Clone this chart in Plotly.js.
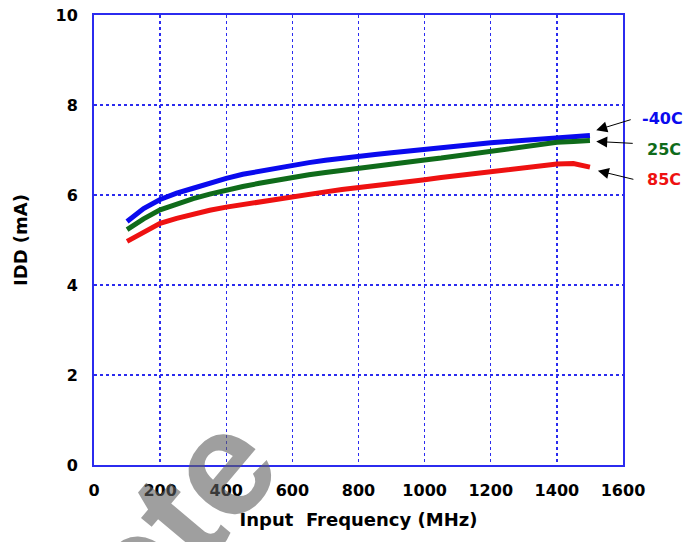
<!DOCTYPE html>
<html>
<head>
<meta charset="utf-8">
<script src="https://cdn.plot.ly/plotly-3.0.1.min.js"></script>
<style>html,body{margin:0;padding:0;background:#fff;}#chart{width:696px;height:542px;}</style>
</head>
<body>
<div id="chart"></div>
<script>
// Input frequency (MHz)
var freq = [100,150,200,250,300,350,400,450,500,550,600,650,700,750,800,850,900,950,1000,1050,1100,1150,1200,1250,1300,1350,1400,1450,1500];
var freqRed = [100,150,200,250,300,350,400,450,500,550,600,650,700,750,800,850,900,950,1000,1050,1100,1150,1200,1250,1300,1350,1400,1450,1475,1500];
// IDD (mA)
var iddM40 = [5.41,5.70,5.90,6.04,6.15,6.27,6.37,6.46,6.53,6.60,6.67,6.72,6.77,6.82,6.86,6.90,6.94,6.98,7.02,7.06,7.09,7.12,7.16,7.19,7.22,7.25,7.28,7.30,7.32];
var idd25 = [5.23,5.47,5.67,5.80,5.92,6.02,6.11,6.19,6.26,6.33,6.40,6.45,6.50,6.55,6.60,6.64,6.69,6.73,6.78,6.82,6.87,6.92,6.97,7.02,7.07,7.12,7.17,7.19,7.21];
var idd85 = [4.97,5.17,5.37,5.48,5.58,5.66,5.73,5.79,5.85,5.91,5.97,6.02,6.07,6.12,6.16,6.21,6.25,6.30,6.34,6.39,6.43,6.48,6.52,6.56,6.60,6.65,6.69,6.70,6.67,6.62];
var seriesNames = ['-40C','25C','85C'];
var xTicks = [0,200,400,600,800,1000,1200,1400,1600];
var yTicks = [0,2,4,6,8,10];
var watermark = 'Obsolete';

var cBlue = '#0a0aee', cGreen = '#0f6b1a', cRed = '#ee1111';
var font = 'DejaVu Sans, Verdana, sans-serif';

var traces = [
  {x: freq, y: iddM40, name: seriesNames[0], mode: 'lines', line: {color: cBlue, width: 5}},
  {x: freq, y: idd25, name: seriesNames[1], mode: 'lines', line: {color: cGreen, width: 5}},
  {x: freqRed, y: idd85, name: seriesNames[2], mode: 'lines', line: {color: cRed, width: 5}}
];

var axisCommon = {
  showline: true, mirror: true, linecolor: '#2b2bef', linewidth: 2,
  showgrid: true, gridcolor: '#2b2bef', gridwidth: 1.3, griddash: 'dot',
  zeroline: false, ticks: '', fixedrange: true,
  tickfont: {family: font, size: 16, color: '#000', weight: 'bold'}
};

var layout = {
  width: 696, height: 542,
  margin: {l: 94, r: 73, t: 15, b: 77, pad: 0},
  paper_bgcolor: '#fff', plot_bgcolor: 'rgba(0,0,0,0)',
  showlegend: false,
  xaxis: Object.assign({}, axisCommon, {
    range: [0, 1600], tickvals: xTicks, ticktext: xTicks.map(String),
    ticklabelstandoff: 10,
    title: {text: 'Input\u00a0 Frequency (MHz)', standoff: 14,
            font: {family: font, size: 18, color: '#000', weight: 'bold'}}
  }),
  yaxis: Object.assign({}, axisCommon, {
    range: [0, 10], tickvals: yTicks, ticktext: yTicks.map(String),
    ticklabelstandoff: 11,
    title: {text: 'IDD (mA)', standoff: 23,
            font: {family: font, size: 18, color: '#000', weight: 'bold'}}
  }),
  annotations: [
    {xref: 'paper', yref: 'paper', x: -0.103, y: -0.479, xanchor: 'center', yanchor: 'middle',
     text: watermark, showarrow: false, textangle: -50,
     font: {family: 'Liberation Sans, Arial, sans-serif', size: 150, color: 'rgba(95,95,95,0.6)', weight: 'bold'}},
    {xref: 'x', yref: 'y', x: 1519, y: 7.44, ax: 36, ay: -11, text: ' ', showarrow: true,
     arrowhead: 2, arrowsize: 2.2, arrowwidth: 1, arrowcolor: '#000', standoff: 0, font: {size: 1}},
    {xref: 'x', yref: 'y', x: 1519, y: 7.19, ax: 38, ay: 2, text: ' ', showarrow: true,
     arrowhead: 2, arrowsize: 2.2, arrowwidth: 1, arrowcolor: '#000', standoff: 0, font: {size: 1}},
    {xref: 'x', yref: 'y', x: 1524, y: 6.54, ax: 37, ay: 9, text: ' ', showarrow: true,
     arrowhead: 2, arrowsize: 2.2, arrowwidth: 1, arrowcolor: '#000', standoff: 0, font: {size: 1}},
    {xref: 'paper', yref: 'paper', x: 1.074, y: 0.770, xanchor: 'center', yanchor: 'middle',
     text: seriesNames[0], showarrow: false, font: {family: font, size: 16, color: cBlue, weight: 'bold'}},
    {xref: 'paper', yref: 'paper', x: 1.077, y: 0.701, xanchor: 'center', yanchor: 'middle',
     text: seriesNames[1], showarrow: false, font: {family: font, size: 16, color: cGreen, weight: 'bold'}},
    {xref: 'paper', yref: 'paper', x: 1.077, y: 0.634, xanchor: 'center', yanchor: 'middle',
     text: seriesNames[2], showarrow: false, font: {family: font, size: 16, color: cRed, weight: 'bold'}}
  ]
};

Plotly.newPlot('chart', traces, layout, {displayModeBar: false, staticPlot: true});
</script>
</body>
</html>
